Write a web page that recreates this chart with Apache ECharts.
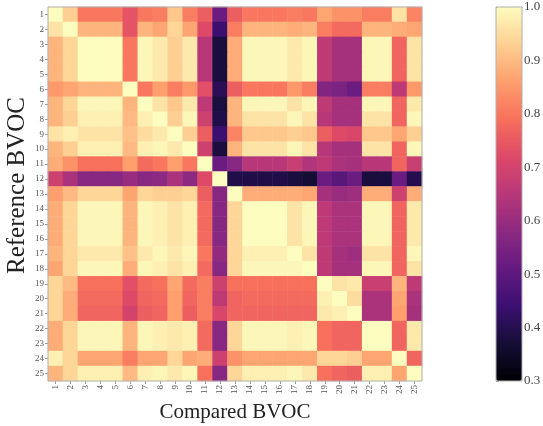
<!DOCTYPE html>
<html>
<head>
<meta charset="utf-8">
<script src="https://cdn.jsdelivr.net/npm/echarts@6/dist/echarts.min.js"></script>
<style>
  html, body { margin: 0; padding: 0; background: #fff; }
  #chart { width: 543px; height: 426px; }
</style>
</head>
<body>
<div id="chart"></div>
<script>
var labels = ['1','2','3','4','5','6','7','8','9','10','11','12','13','14','15','16','17','18','19','20','21','22','23','24','25'];

// rows = reference BVOC, columns = compared BVOC
var corr = [
  [1.00,0.93,0.80,0.80,0.80,0.74,0.80,0.81,0.92,0.81,0.76,0.52,0.76,0.80,0.80,0.80,0.81,0.80,0.87,0.84,0.84,0.81,0.81,0.96,0.82],
  [0.96,1.00,0.89,0.89,0.89,0.74,0.89,0.87,0.94,0.87,0.72,0.44,0.81,0.89,0.89,0.89,0.88,0.89,0.81,0.78,0.78,0.89,0.89,0.88,0.87],
  [0.89,0.94,1.00,1.00,1.00,0.80,0.99,0.97,0.93,0.97,0.65,0.38,0.88,0.99,0.99,0.99,0.97,0.99,0.66,0.62,0.62,0.99,0.99,0.77,0.96],
  [0.89,0.94,1.00,1.00,1.00,0.80,0.99,0.97,0.93,0.97,0.65,0.38,0.88,0.99,0.99,0.99,0.97,0.99,0.66,0.62,0.62,0.99,0.99,0.77,0.96],
  [0.89,0.94,1.00,1.00,1.00,0.80,0.99,0.97,0.93,0.97,0.65,0.38,0.88,0.99,0.99,0.99,0.97,0.99,0.66,0.62,0.62,0.99,0.99,0.77,0.96],
  [0.85,0.87,0.89,0.89,0.89,1.00,0.80,0.86,0.81,0.85,0.73,0.41,0.76,0.80,0.80,0.80,0.85,0.81,0.56,0.55,0.52,0.81,0.81,0.66,0.85],
  [0.89,0.94,0.99,0.99,0.99,0.89,1.00,0.96,0.92,0.97,0.66,0.38,0.89,0.99,0.99,0.99,0.96,0.99,0.66,0.62,0.62,0.99,0.99,0.77,0.97],
  [0.89,0.93,0.98,0.98,0.98,0.90,0.98,1.00,0.93,0.99,0.69,0.39,0.89,0.96,0.96,0.96,0.99,0.96,0.65,0.62,0.62,0.96,0.96,0.77,0.99],
  [0.96,0.98,0.96,0.96,0.96,0.91,0.95,0.97,1.00,0.93,0.76,0.44,0.82,0.92,0.92,0.92,0.93,0.92,0.76,0.72,0.71,0.92,0.92,0.87,0.93],
  [0.89,0.93,0.98,0.98,0.98,0.90,0.98,0.99,0.97,1.00,0.69,0.38,0.89,0.96,0.96,0.96,0.99,0.96,0.65,0.62,0.62,0.96,0.96,0.77,0.99],
  [0.88,0.84,0.79,0.79,0.79,0.86,0.78,0.80,0.86,0.80,1.00,0.52,0.57,0.65,0.65,0.65,0.68,0.64,0.66,0.63,0.62,0.65,0.65,0.77,0.68],
  [0.69,0.63,0.57,0.57,0.57,0.60,0.57,0.58,0.63,0.58,0.72,1.00,0.39,0.39,0.39,0.39,0.38,0.37,0.52,0.49,0.52,0.38,0.38,0.52,0.40],
  [0.86,0.90,0.94,0.94,0.94,0.87,0.94,0.93,0.93,0.94,0.76,0.57,1.00,0.88,0.88,0.88,0.88,0.87,0.62,0.60,0.61,0.88,0.88,0.69,0.88],
  [0.88,0.94,0.99,0.99,0.99,0.89,0.99,0.98,0.96,0.98,0.78,0.57,0.94,1.00,1.00,1.00,0.96,0.99,0.66,0.63,0.63,0.99,0.99,0.77,0.97],
  [0.88,0.94,0.99,0.99,0.99,0.89,0.99,0.98,0.96,0.98,0.78,0.57,0.94,1.00,1.00,1.00,0.96,0.99,0.66,0.63,0.63,0.99,0.99,0.77,0.97],
  [0.88,0.94,0.99,0.99,0.99,0.89,0.99,0.98,0.96,0.98,0.78,0.57,0.94,1.00,1.00,1.00,0.96,0.99,0.66,0.63,0.63,0.99,0.99,0.77,0.97],
  [0.89,0.94,0.97,0.97,0.97,0.91,0.97,0.99,0.97,0.99,0.80,0.59,0.94,0.98,0.98,0.98,1.00,0.96,0.66,0.62,0.61,0.96,0.96,0.77,0.99],
  [0.87,0.94,0.99,0.99,0.99,0.88,0.99,0.98,0.96,0.98,0.78,0.57,0.94,0.99,0.99,0.99,0.99,1.00,0.66,0.62,0.62,0.99,0.99,0.77,0.96],
  [0.94,0.90,0.79,0.79,0.79,0.73,0.78,0.79,0.87,0.78,0.81,0.69,0.79,0.79,0.79,0.79,0.79,0.79,1.00,0.96,0.97,0.68,0.68,0.89,0.66],
  [0.94,0.88,0.78,0.78,0.78,0.72,0.77,0.78,0.86,0.77,0.81,0.66,0.77,0.78,0.78,0.78,0.78,0.78,0.98,1.00,0.95,0.63,0.63,0.87,0.63],
  [0.94,0.88,0.77,0.77,0.77,0.70,0.76,0.77,0.86,0.76,0.81,0.71,0.77,0.77,0.77,0.77,0.77,0.77,0.97,0.98,1.00,0.63,0.63,0.86,0.62],
  [0.88,0.94,0.99,0.99,0.99,0.89,0.99,0.98,0.97,0.98,0.78,0.57,0.94,0.99,0.99,0.99,0.98,0.99,0.79,0.77,0.77,1.00,1.00,0.77,0.97],
  [0.88,0.94,0.99,0.99,0.99,0.89,0.99,0.98,0.97,0.98,0.78,0.57,0.94,0.99,0.99,0.99,0.98,0.99,0.79,0.77,0.77,1.00,1.00,0.77,0.97],
  [0.98,0.94,0.87,0.87,0.87,0.81,0.87,0.87,0.94,0.87,0.88,0.69,0.84,0.87,0.87,0.87,0.87,0.87,0.94,0.94,0.93,0.87,0.87,1.00,0.77],
  [0.89,0.94,0.98,0.98,0.98,0.90,0.98,0.99,0.97,0.99,0.79,0.57,0.94,0.98,0.98,0.98,0.99,0.97,0.79,0.77,0.76,0.98,0.98,0.87,1.00]
];

var magma = ['#000004','#140e36','#3b0f70','#641a80','#8c2981','#b73779','#de4968','#f7705c','#fe9f6d','#fecf92','#fcfdbf'];

var FONT = 'Liberation Serif';

// flatten matrix into [col, row, value]
var cells = [];
for (var r = 0; r < corr.length; r++) {
  for (var c = 0; c < corr[r].length; c++) {
    cells.push([c, r, corr[r][c]]);
  }
}

var chart = echarts.init(document.getElementById('chart'), null, { renderer: 'canvas' });

var option = {
  animation: false,
  backgroundColor: '#fff',
  grid: [
    { left: 48, top: 7, width: 374, height: 374, show: true, borderColor: '#b0b0b0', borderWidth: 1, z: 5, outerBoundsMode: 'none', containLabel: false },
    { left: 496, top: 7, width: 26, height: 374, show: true, borderColor: '#b0b0b0', borderWidth: 1, backgroundColor: 'transparent', z: 5, outerBoundsMode: 'none', containLabel: false }
  ],
  xAxis: [{
    type: 'category',
    data: labels,
    gridIndex: 0,
    name: 'Compared BVOC',
    nameLocation: 'middle',
    nameGap: 19,
    nameTextStyle: { fontFamily: FONT, fontSize: 21, color: '#222' },
    axisLine: { show: false },
    axisTick: { show: true, length: 3, lineStyle: { color: '#999' }, alignWithLabel: true },
    axisLabel: { rotate: 90, fontFamily: FONT, fontSize: 9, color: '#555', margin: 4 },
    splitLine: { show: false }
  }, {
    type: 'value',
    gridIndex: 1,
    show: false
  }],
  yAxis: [{
    type: 'category',
    data: labels,
    inverse: true,
    gridIndex: 0,
    name: 'Reference BVOC',
    nameLocation: 'middle',
    nameGap: 18,
    nameMoveOverlap: false,
    nameTextStyle: { fontFamily: FONT, fontSize: 25, color: '#222', padding: [0, 0, 0, 17] },
    axisLine: { show: false },
    axisTick: { show: true, length: 3, lineStyle: { color: '#999' }, alignWithLabel: true },
    axisLabel: { fontFamily: FONT, fontSize: 9, color: '#555', margin: 4 },
    splitLine: { show: false }
  }, {
    type: 'value',
    gridIndex: 1,
    position: 'right',
    min: 0.3,
    max: 1.0,
    interval: 0.1,
    axisLine: { show: false },
    axisTick: { show: true, length: 3, lineStyle: { color: '#999' } },
    axisLabel: {
      fontFamily: FONT, fontSize: 13, color: '#444', margin: 2,
      formatter: function (v) { return v.toFixed(1); }
    },
    splitLine: { show: false }
  }],
  visualMap: {
    type: 'continuous',
    min: 0.3,
    max: 1.0,
    seriesIndex: 0,
    calculable: false,
    orient: 'vertical',
    left: 496,
    top: 7,
    padding: 0,
    itemWidth: 26,
    itemHeight: 374,
    text: null,
    showLabel: false,
    inRange: { color: magma }
  },
  series: [{
    type: 'heatmap',
    xAxisIndex: 0,
    yAxisIndex: 0,
    data: cells,
    itemStyle: { borderWidth: 0 },
    emphasis: { disabled: true }
  }]
};

chart.setOption(option);
</script>
</body>
</html>
